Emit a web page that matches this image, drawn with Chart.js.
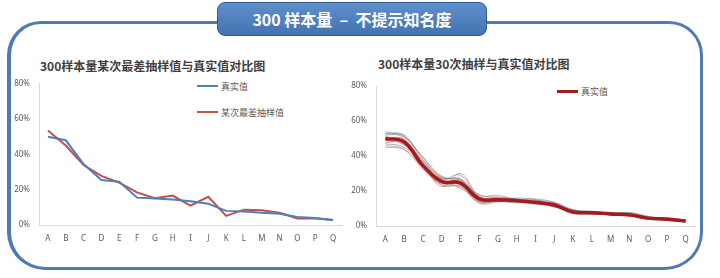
<!DOCTYPE html>
<html>
<head>
<meta charset="utf-8">
<script src="https://cdn.jsdelivr.net/npm/chart.js@4"></script>
<style>
  html, body { margin: 0; padding: 0; background: #fff; }
  body { width: 720px; height: 278px; position: relative; overflow: hidden;
         font-family: "Noto Sans CJK SC", "Noto Sans", sans-serif; }
  .frame { position: absolute; left: 7px; top: 21px; width: 689px; height: 243px;
           border: 3px solid #4f7bb4; border-left-width: 4px; border-radius: 34px 34px 38px 38px; }
  .banner { position: absolute; left: 217px; top: 2px; width: 268px; height: 32px;
            border: 1px solid #2f5a92; border-radius: 8px;
            background: linear-gradient(#5f8fcb, #4473b2);
            color: #fff; font-size: 16px; font-weight: bold; line-height: 32px; text-align: center;
            white-space: pre; }
  .ctitle { position: absolute; font-size: 12px; font-weight: bold; color: #404040; white-space: nowrap; }
  .legend { position: absolute; font-size: 9px; color: #595959; }
  .legend div { display: flex; align-items: center; height: 12px; white-space: nowrap; }
  .legend span.sw { display: inline-block; width: 21px; margin-right: 3px; }
  canvas { position: absolute; }
</style>
</head>
<body>
<div class="frame"></div>
<div class="banner">300 样本量  –  不提示知名度</div>

<div class="ctitle" style="left:40px; top:57px;">300样本量某次最差抽样值与真实值对比图</div>
<div class="ctitle" style="left:378px; top:55px;">300样本量30次抽样与真实值对比图</div>

<div class="legend" id="legendLeft" style="left:197px; top:80px;"></div>
<div class="legend" id="legendRight" style="left:557px; top:85px;"></div>

<div id="wrapLeft" style="position:absolute; left:8px; top:70px; width:345px; height:182px;"><canvas id="chartLeft"></canvas></div>
<div id="wrapRight" style="position:absolute; left:345px; top:70px; width:355px; height:182px;"><canvas id="chartRight"></canvas></div>

<script>
// --- datos (porcentajes) ---
const categories = ['A','B','C','D','E','F','G','H','I','J','K','L','M','N','O','P','Q'];
const yTicks = [0, 20, 40, 60, 80];

const trueValues  = [50, 48, 34.5, 25.5, 24.5, 15.5, 15, 14.5, 13.5, 12, 8, 7.6, 6.9, 6.4, 4.5, 3.9, 2.8];
const worstSample = [53.5, 45, 34, 27.8, 24, 18.5, 15.2, 16.7, 11, 16, 5.2, 8.7, 8.3, 6.9, 3.7, 3.7, 2.8];

// 30 muestras (solo algunas trazadas, leidas a ojo)
const grayRuns = [
  [53, 52, 38, 27.5, 27, 16.5, 16.5, 15.5, 14.5, 13.5, 9, 8.5, 7.5, 7.5, 5.2, 4.6, 3.3],
  [47, 45, 35, 23.5, 22.5, 14, 14, 13.5, 12.5, 11, 7, 7.2, 6.2, 5.8, 3.9, 3.4, 2.4],
  [54, 51, 39, 28, 26.5, 17.5, 17.5, 15.2, 15.5, 13.5, 9.5, 8.2, 7.2, 7.8, 5.6, 4.2, 3],
  [46, 44, 33.5, 24.5, 25.5, 14.8, 15.8, 13.8, 12.8, 12.8, 8.2, 6.8, 7.8, 5.8, 4.6, 3.3, 2.5],
  [52, 51.5, 36.5, 27, 29, 16.5, 14.8, 16, 15, 12.2, 7.2, 8.3, 6.3, 6.8, 3.8, 4.8, 3.1],
  [49, 46.5, 37.5, 24.5, 23.5, 13.5, 14.2, 13.2, 13.8, 11.2, 8.8, 7.6, 7.1, 5.9, 5.1, 3.9, 2.6]
];
const pinkRuns = [
  [50.5, 49.5, 35.5, 22.5, 30, 17, 15.8, 15.2, 12.8, 12.8, 8, 8.2, 7.1, 7, 4.6, 4.1, 2.9],
  [45, 43.5, 32.5, 23.5, 22.5, 13, 13.8, 14.8, 14.2, 12.2, 7.3, 7.6, 6.7, 6.6, 4.1, 3.8, 2.4],
  [53, 50.5, 39.5, 28.5, 26, 18, 16.2, 13.8, 13.4, 10.8, 9.2, 6.8, 7.3, 5.6, 4.9, 4.1, 3.2],
  [47.5, 48, 35, 26.5, 21.5, 15.2, 14.3, 15.4, 12.8, 12.8, 7.7, 8.4, 6.5, 6.8, 4.2, 3.5, 2.6],
  [51.5, 46.5, 36.5, 27.5, 25, 16.2, 15.2, 13.8, 14.8, 11.8, 8.4, 7.3, 7.6, 6.1, 4.7, 4.3, 3],
  [48.5, 49.5, 33.5, 24.5, 26.5, 14.2, 15.8, 15.3, 13, 13.2, 7.4, 7.9, 6.9, 6.7, 4.3, 3.5, 2.7]
];

const blueColor = '#4f81b8';
const redColor = '#c0504d';
const darkRed = '#a8191b';
const tickFont = { family: 'Noto Sans, sans-serif', size: 8 };

function makeScales(yWidth, xHeight, yPad) {
  return {
    x: {
      offset: true,
      grid: { display: false, drawTicks: false },
      border: { color: '#d9d9d9' },
      ticks: { color: '#595959', font: tickFont, padding: 9, maxRotation: 0, autoSkip: false },
      afterFit: s => { s.height = xHeight; }
    },
    y: {
      min: 0, max: 80,
      afterBuildTicks: s => { s.ticks = yTicks.map(v => ({ value: v })); },
      grid: { display: false, drawTicks: false },
      border: { color: '#d9d9d9' },
      ticks: { color: '#595959', font: tickFont, padding: yPad, callback: v => v + '%' },
      afterFit: s => { s.width = yWidth; }
    }
  };
}

const baseOptions = {
  responsive: true,
  maintainAspectRatio: false,
  animation: false,
  plugins: { legend: { display: false }, tooltip: { enabled: false } },
  elements: { point: { radius: 0 } }
};

// --- grafico izquierdo ---
const leftDatasets = [
  { label: '真实值', data: trueValues, borderColor: blueColor, borderWidth: 2, tension: 0 },
  { label: '某次最差抽样值', data: worstSample, borderColor: redColor, borderWidth: 2, tension: 0 }
];
new Chart(document.getElementById('chartLeft'), {
  type: 'line',
  data: { labels: categories, datasets: leftDatasets },
  options: Object.assign({}, baseOptions, {
    layout: { padding: { top: 11, right: 11, left: 0, bottom: 0 } },
    scales: makeScales(31, 27, 9)
  })
});

// --- grafico derecho ---
const rightDatasets = [
  { label: '真实值', data: trueValues, borderColor: darkRed, borderWidth: 3.5, tension: 0.4 }
];
grayRuns.forEach((run, i) => rightDatasets.push({
  label: 'gray' + i, data: run, borderColor: 'rgba(120,130,140,0.6)', borderWidth: 1, tension: 0.4
}));
pinkRuns.forEach((run, i) => rightDatasets.push({
  label: 'pink' + i, data: run, borderColor: 'rgba(225,110,110,0.65)', borderWidth: 1, tension: 0.4
}));
new Chart(document.getElementById('chartRight'), {
  type: 'line',
  data: { labels: categories, datasets: rightDatasets },
  options: Object.assign({}, baseOptions, {
    layout: { padding: { top: 16, right: 5, left: 0, bottom: 0 } },
    scales: makeScales(31, 26, 9)
  })
});

// --- leyendas en HTML ---
function buildLegend(el, items, gap) {
  items.forEach((it, i) => {
    const row = document.createElement('div');
    if (i > 0) row.style.marginTop = gap + 'px';
    const sw = document.createElement('span');
    sw.className = 'sw';
    sw.style.borderTop = it.borderWidth + 'px solid ' + it.borderColor;
    row.appendChild(sw);
    row.appendChild(document.createTextNode(it.label));
    el.appendChild(row);
  });
}
buildLegend(document.getElementById('legendLeft'), leftDatasets, 14);
buildLegend(document.getElementById('legendRight'), [{ label: '真实值', borderColor: darkRed, borderWidth: 3 }], 0);
</script>
</body>
</html>
